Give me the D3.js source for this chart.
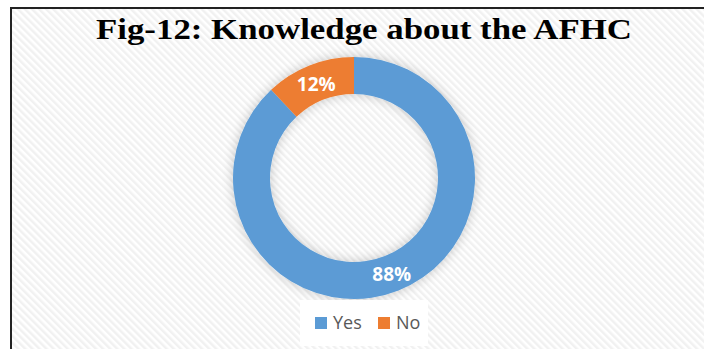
<!DOCTYPE html>
<html>
<head>
<meta charset="utf-8">
<script src="https://cdn.jsdelivr.net/npm/d3@7"></script>
<style>
  body { margin: 0; background: #fff; }
  svg { display: block; }
</style>
</head>
<body>
<div id="chart"></div>
<script>
const categories = ['Yes', 'No']
const values = [88, 12]
const labels = ['88%', '12%']
const colors = ['#5B9BD5', '#ED7D31']
const title = 'Fig-12: Knowledge about the AFHC'

const width = 704, height = 349
const cx = 354, cy = 178
const outerR = 121, innerR = 84

const svg = d3.select('#chart').append('svg')
  .attr('width', width)
  .attr('height', height)

const defs = svg.append('defs')

// diagonal hatch background
const pat = defs.append('pattern')
  .attr('id', 'hatch')
  .attr('patternUnits', 'userSpaceOnUse')
  .attr('width', 5).attr('height', 5)
  .attr('patternTransform', 'rotate(-45)')
pat.append('rect').attr('width', 5).attr('height', 5).attr('fill', '#ffffff')
pat.append('rect').attr('width', 2.5).attr('height', 5).attr('fill', '#f1f1f1')

const shadow = defs.append('filter').attr('id', 'shadow')
  .attr('x', '-30%').attr('y', '-30%').attr('width', '160%').attr('height', '160%')
shadow.append('feGaussianBlur').attr('in', 'SourceAlpha').attr('stdDeviation', 6)
shadow.append('feComponentTransfer').append('feFuncA').attr('type', 'linear').attr('slope', 0.22)
const merge = shadow.append('feMerge')
merge.append('feMergeNode')
merge.append('feMergeNode').attr('in', 'SourceGraphic')

// chart area with frame (top and left edges visible)
svg.append('rect')
  .attr('x', 11).attr('y', 8)
  .attr('width', width + 10).attr('height', height + 10)
  .attr('fill', 'url(#hatch)')
  .attr('stroke', '#222')
  .attr('stroke-width', 2)

svg.append('text')
  .attr('x', 364).attr('y', 39)
  .attr('text-anchor', 'middle')
  .attr('font-family', 'Liberation Serif, serif')
  .attr('font-weight', 'bold')
  .attr('font-size', 29)
  .attr('textLength', 536)
  .attr('lengthAdjust', 'spacingAndGlyphs')
  .attr('fill', '#000')
  .text(title)

const pie = d3.pie().sort(null).value(d => d)
const arcs = pie(values)
const arc = d3.arc().innerRadius(innerR).outerRadius(outerR)

const g = svg.append('g').attr('transform', `translate(${cx},${cy})`)

g.append('g').attr('filter', 'url(#shadow)')
  .selectAll('path')
  .data(arcs)
  .enter()
  .append('path')
  .attr('d', arc)
  .attr('fill', (d, i) => colors[i])

g.selectAll('text.lbl')
  .data(arcs)
  .enter()
  .append('text')
  .attr('class', 'lbl')
  .attr('transform', d => {
    const c = arc.centroid(d)
    return `translate(${c[0]},${c[1]})`
  })
  .attr('dy', '0.42em')
  .attr('text-anchor', 'middle')
  .attr('font-family', 'Open Sans, Liberation Sans, sans-serif')
  .attr('font-weight', 'bold')
  .attr('font-size', 19)
  .attr('fill', '#fff')
  .text((d, i) => labels[i])

// legend
const legend = svg.append('g')
legend.append('rect')
  .attr('x', 300).attr('y', 300)
  .attr('width', 128).attr('height', 46)
  .attr('fill', '#fff')

const items = legend.selectAll('g.item')
  .data(categories)
  .enter()
  .append('g')
  .attr('class', 'item')
  .attr('transform', (d, i) => `translate(${315 + i * 63},0)`)

items.append('rect')
  .attr('x', 0).attr('y', 317)
  .attr('width', 12).attr('height', 12)
  .attr('fill', (d, i) => colors[i])

items.append('text')
  .attr('x', 18).attr('y', 329)
  .attr('font-family', 'Open Sans, Liberation Sans, sans-serif')
  .attr('font-size', 18)
  .attr('fill', '#595959')
  .text(d => d)
</script>
</body>
</html>
